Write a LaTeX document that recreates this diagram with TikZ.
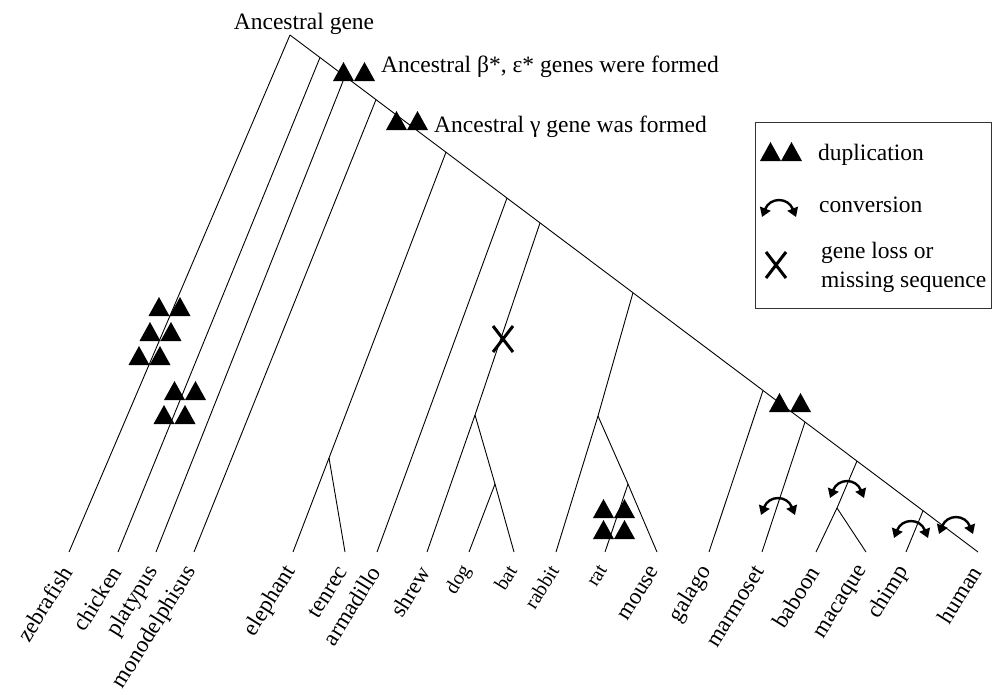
\documentclass[tikz,border=0pt]{standalone}
\usepackage{fontspec}
\setmainfont{Liberation Serif}
\usetikzlibrary{arrows.meta,calc}
\begin{document}
\begin{tikzpicture}[x=1pt,y=-1pt,
  branch/.style={line width=0.9pt},
  species/.style={font=\fontsize{23}{23}\selectfont, rotate=58, anchor=east, inner sep=0pt},
  smallspecies/.style={species, font=\fontsize{20}{20}\selectfont},
  note/.style={font=\fontsize{23.5}{23.5}\selectfont, inner sep=0pt},
  convarrow/.style={line width=2.4pt, {Triangle[length=9pt,width=11pt]}-{Triangle[length=9pt,width=11pt]}},
  dup/.pic={\fill (-21,0)--(0,0)--(-10.5,-19)--cycle (0,0)--(21,0)--(10.5,-19)--cycle;},
  conv/.pic={\draw[convarrow] (-17,7) .. controls (-9,-13) and (9,-13) .. (17,7);},
  loss/.pic={\draw[line width=3pt] (-10,-13)--(10,13) (10,-13)--(-10,13);},
]
\useasboundingbox (0,0) rectangle (994,694);

% backbone of the tree
\coordinate (R) at (290,35);
\coordinate (human) at (978,552);
\foreach \n/\t in {J1/0.0436,J2/0.0799,J3/0.125,J4/0.2267,J5/0.3154,J6/0.3634,
                   J7/0.4985,J8/0.6875,J9/0.7485,J10/0.8241,J11/0.9201}
  \coordinate (\n) at ($(R)!\t!(human)$);

% leaves
\foreach \n/\x in {zebrafish/69,chicken/118,platypus/156,monodelphisus/194,
                   elephant/293,tenrec/345,armadillo/377,shrew/427,dog/469,bat/514,
                   rabbit/556,rat/605,mouse/657,galago/709,marmoset/762,baboon/816,
                   macaque/866,chimp/906}
  \coordinate (\n) at (\x,552);

% internal forks
\coordinate (E) at (329,458);
\coordinate (F1) at (475,415);
\coordinate (F2) at (495,484);
\coordinate (G1) at (598,416);
\coordinate (G2) at (628,484);
\coordinate (M) at (837,508);

\draw[branch] (R) -- (human);
\draw[branch] (R) -- (zebrafish);
\draw[branch] (J1) -- (chicken);
\draw[branch] (J2) -- (platypus);
\draw[branch] (J3) -- (monodelphisus);
\draw[branch] (J4) -- (E) -- (elephant);
\draw[branch] (E) -- (tenrec);
\draw[branch] (J5) -- (armadillo);
\draw[branch] (J6) -- (F1) -- (shrew);
\draw[branch] (F1) -- (F2) -- (bat);
\draw[branch] (F2) -- (dog);
\draw[branch] (J7) -- (G1) -- (rabbit);
\draw[branch] (G1) -- (G2) -- (mouse);
\draw[branch] (G2) -- (rat);
\draw[branch] (J8) -- (galago);
\draw[branch] (J9) -- (marmoset);
\draw[branch] (J10) -- (M) -- (baboon);
\draw[branch] (M) -- (macaque);
\draw[branch] (J11) -- (chimp);

% species names
\foreach \n in {zebrafish,chicken,platypus,monodelphisus,elephant,tenrec,armadillo,
                shrew,mouse,galago,marmoset,baboon,macaque,chimp,human}
  \node[species] (L\n) at ($(\n)+(-2,16)$) {\n};
\foreach \n in {dog,bat,rabbit,rat}
  \node[smallspecies] (L\n) at ($(\n)+(-2,15)$) {\n};

% events on the branches
\pic at (354,81) {dup};
\pic at (407,130) {dup};
\pic at (169.5,316) {dup};
\pic at (160.5,341) {dup};
\pic at (149.5,365) {dup};
\pic at (185,400) {dup};
\pic at (174.5,424) {dup};
\pic at (614,518) {dup};
\pic at (614,539) {dup};
\pic at (790,412) {dup};
\pic at (503,339) {loss};
\pic at (778,508) {conv};
\pic at (847,491) {conv};
\pic at (911,531) {conv};
\pic at (956,527) {conv};

% annotations
\node[note, anchor=base] (anc) at (304,29) {Ancestral gene};
\node[note, anchor=base west] (beps) at (381,72) {Ancestral β*, ε* genes were formed};
\node[note, anchor=base west] (gam) at (434,132) {Ancestral γ gene was formed};

% legend
\draw[line width=0.8pt, black!80] (755,122) rectangle (991,308);
\pic at (781,161) {dup};
\pic at (779,210) {conv};
\pic at (776,265) {loss};
\node[note, anchor=base west] (kdup) at (818,160) {duplication};
\node[note, anchor=base west] (kconv) at (819,212) {conversion};
\node[note, anchor=base west] (kloss1) at (821,258) {gene loss or};
\node[note, anchor=base west] (kloss2) at (821,287) {missing sequence};
\end{tikzpicture}
\end{document}
